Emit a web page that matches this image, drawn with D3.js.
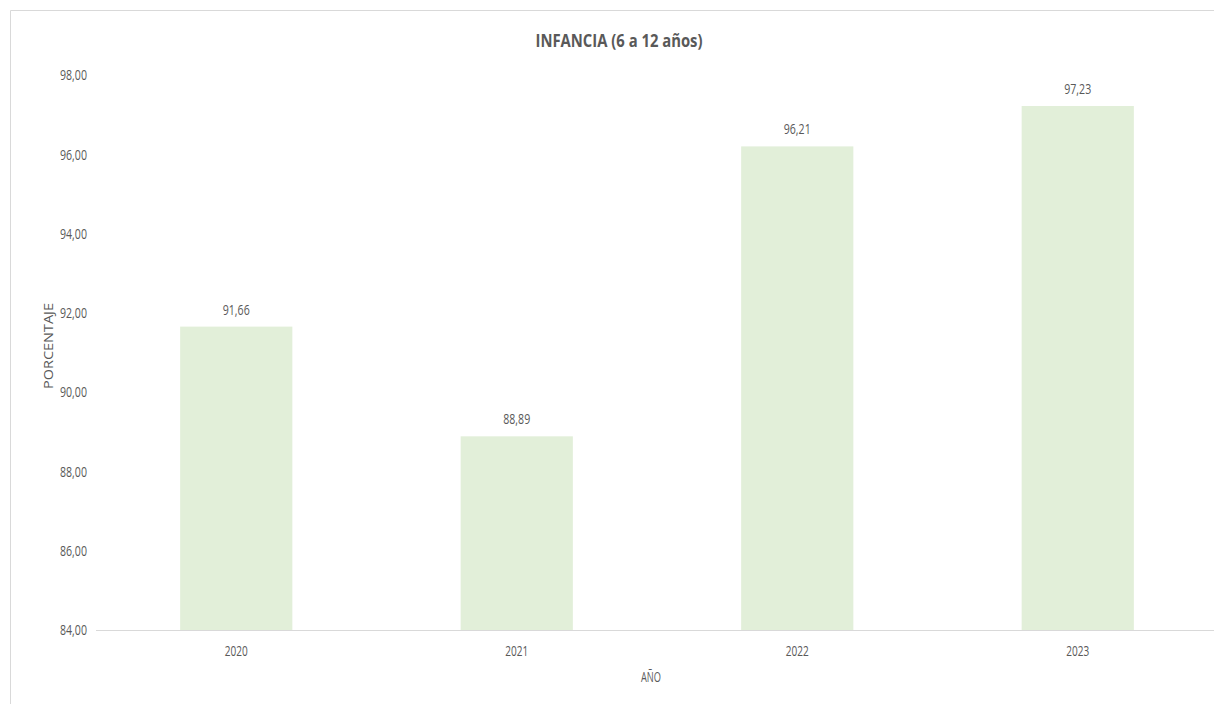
<!DOCTYPE html>
<html><head><meta charset="utf-8">
<script src="https://cdn.jsdelivr.net/npm/d3@7"></script>
<style>body{margin:0;background:#fff}svg{display:block}</style>
</head><body>
<script>
const categories = ["2020","2021","2022","2023"];
const values = [91.66, 88.89, 96.21, 97.23];
const yTicks = [84,86,88,90,92,94,96,98];
const title = "INFANCIA (6 a 12 años)";
const xTitle = "AÑO";
const yTitle = "PORCENTAJE";

const W=1214,H=704;
const svg=d3.select("body").append("svg").attr("width",W).attr("height",H);
const font="'Open Sans',sans-serif";
const txt="#595959";
const fmt=d=>d3.format(".2f")(d).replace(".",",");
// frame
svg.append("path").attr("d","M10.5,704 V10.5 H1214").attr("fill","none").attr("stroke","#d9d9d9").attr("stroke-width",1);

const x=d3.scaleBand().domain(categories).range([96,1218]).paddingInner(0.6).paddingOuter(0.3);
const y=d3.scaleLinear().domain([84,98]).range([630,75.5]);

svg.append("text").attr("x",619).attr("y",47).attr("text-anchor","middle")
 .attr("font-family",font).attr("font-weight","bold").attr("font-size",18).attr("fill",txt)
 .attr("textLength",167).attr("lengthAdjust","spacingAndGlyphs").text(title);

svg.selectAll("rect.bar").data(values).join("rect").attr("class","bar")
 .attr("x",(d,i)=>x(categories[i])).attr("width",x.bandwidth())
 .attr("y",d=>y(d)).attr("height",d=>y(84)-y(d)).attr("fill","#e2efd9");

const yAxis=svg.append("g").attr("transform","translate(96,0)")
 .call(d3.axisLeft(y).tickValues(yTicks).tickSize(0).tickPadding(9).tickFormat(fmt));
yAxis.select(".domain").remove();
yAxis.selectAll("text").attr("font-family",font).attr("font-size",14).attr("fill",txt)
 .attr("textLength",27).attr("lengthAdjust","spacingAndGlyphs");

const xAxis=svg.append("g").attr("transform","translate(0,630)")
 .call(d3.axisBottom(x).tickSize(0).tickPadding(16));
xAxis.select(".domain").attr("stroke","#d9d9d9").attr("d","M96,0.5H1214");
xAxis.selectAll("text").attr("font-family",font).attr("font-size",14).attr("fill",txt)
 .attr("textLength",23).attr("lengthAdjust","spacingAndGlyphs");

svg.selectAll("text.lbl").data(values).join("text").attr("class","lbl")
 .attr("x",(d,i)=>x(categories[i])+x.bandwidth()/2).attr("y",d=>y(d)-12)
 .attr("text-anchor","middle").attr("font-family",font).attr("font-size",14).attr("fill",txt)
 .attr("textLength",27).attr("lengthAdjust","spacingAndGlyphs")
 .text(fmt);

svg.append("text").attr("x",651).attr("y",682).attr("text-anchor","middle")
 .attr("font-family",font).attr("font-size",14).attr("fill",txt)
 .attr("textLength",20).attr("lengthAdjust","spacingAndGlyphs").text(xTitle);
svg.append("text").attr("transform","translate(53,346) rotate(-90)").attr("text-anchor","middle")
 .attr("font-family",font).attr("font-size",13).attr("fill",txt)
 .attr("textLength",86).attr("lengthAdjust","spacingAndGlyphs").text(yTitle);
</script>
</body></html>
